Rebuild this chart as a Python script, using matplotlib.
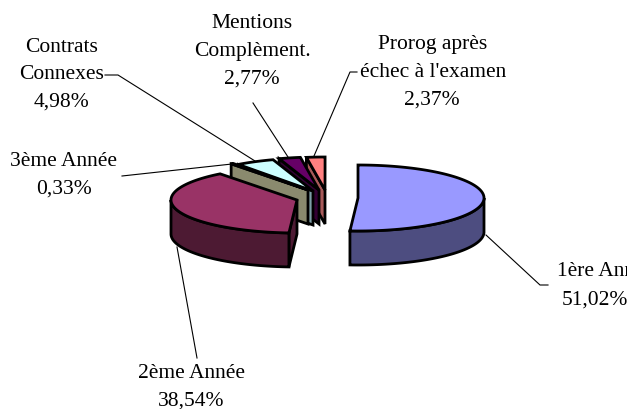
import numpy as np
import matplotlib
matplotlib.use("Agg")
import matplotlib.pyplot as plt
from matplotlib.patches import Polygon

categories = ["1ère Année", "2ème Année", "3ème Année", "Contrats Connexes", "Mentions Complèment.", "Prorog après échec à l'examen"]
values = [51.02, 38.54, 0.33, 4.98, 2.77, 2.37]
value_labels = ["51,02%", "38,54%", "0,33%", "4,98%", "2,77%", "2,37%"]

top_colors = ["#9999FF", "#993366", "#FFFFCC", "#CCFFFF", "#660066", "#FF8080"]
side_colors = ["#4D4D80", "#4D1A33", "#8A8A6E", "#7F9FA8", "#330033", "#A85A5A"]
centers = [(358, 198), (297, 200), (308, 190), (313, 191), (319, 190), (325, 190)]
RX, RY, DEPTH = 126, 33, 34
LW = 2.0
FS = 15.5
LINE_H = 27.7

fig = plt.figure(figsize=(6.27, 4.09), dpi=100)
ax = fig.add_axes([0, 0, 1, 1])
ax.set_xlim(0, 627)
ax.set_ylim(409, 0)
ax.axis("off")


def pt(c, deg, dy=0):
    a = np.radians(deg)
    return c[0] + RX * np.sin(a), c[1] - RY * np.cos(a) + dy


def arc(c, a0, a1, dy=0):
    ang = np.linspace(a0, a1, max(int(abs(a1 - a0)) * 2, 2) + 1)
    a = np.radians(ang)
    return np.column_stack([c[0] + RX * np.sin(a), c[1] - RY * np.cos(a) + dy])


edges = np.concatenate([[0], np.cumsum(values)]) * 3.6


def draw_slice(i, z):
    a0, a1, c = edges[i], edges[i + 1], centers[i]
    kw = dict(closed=True, edgecolor="black", lw=LW, joinstyle="miter", zorder=z)
    if a0 > 180 or i == 1:
        face = [c, pt(c, a0), pt(c, a0, DEPTH), (c[0], c[1] + DEPTH)]
        ax.add_patch(Polygon(face, facecolor=side_colors[i], **kw))
    lo, hi = max(a0, 90), min(a1, 270)
    if hi > lo:
        rim = np.vstack([arc(c, lo, hi), arc(c, hi, lo, DEPTH)])
        ax.add_patch(Polygon(rim, facecolor=side_colors[i], **kw))
    ax.add_patch(Polygon(np.vstack([[c], arc(c, a0, a1)]), facecolor=top_colors[i], **kw))


for z, i in enumerate([5, 4, 3, 2, 1, 0]):
    draw_slice(i, 2 + z)

label_lines = [["1ère Année"], ["2ème Année"], ["3ème Année"], ["Contrats", "Connexes"],
               ["Mentions", "Complèment."], ["Prorog après", "échec à l'examen"]]
label_pos = [(606, 272), (191, 373), (64, 161), (62, 47), (252, 24), (433, 45)]
value_x = [595, 191, 64, 62, 252, 432]
for lines, val, vx, (x, y) in zip(label_lines, value_labels, value_x, label_pos):
    for k, s in enumerate(lines):
        ax.text(x, y + k * LINE_H, s, ha="center", va="center", fontsize=FS,
                family="Liberation Serif", color="black")
    ax.text(vx, y + len(lines) * LINE_H, val, ha="center", va="center", fontsize=FS,
            family="Liberation Serif", color="black")

leaders = [
    [(486, 235), (540, 285), (548, 285)],
    [(177, 247), (197, 358)],
    [(122, 176), (232, 164)],
    [(105, 75), (118, 75), (255, 161)],
    [(253, 103), (288, 157)],
    [(357, 72), (350, 72), (314, 156)],
]
for seg in leaders:
    xs, ys = zip(*seg)
    ax.plot(xs, ys, color="black", lw=0.8, zorder=1.5, solid_joinstyle="miter")

fig.savefig("out.png", dpi=100)
